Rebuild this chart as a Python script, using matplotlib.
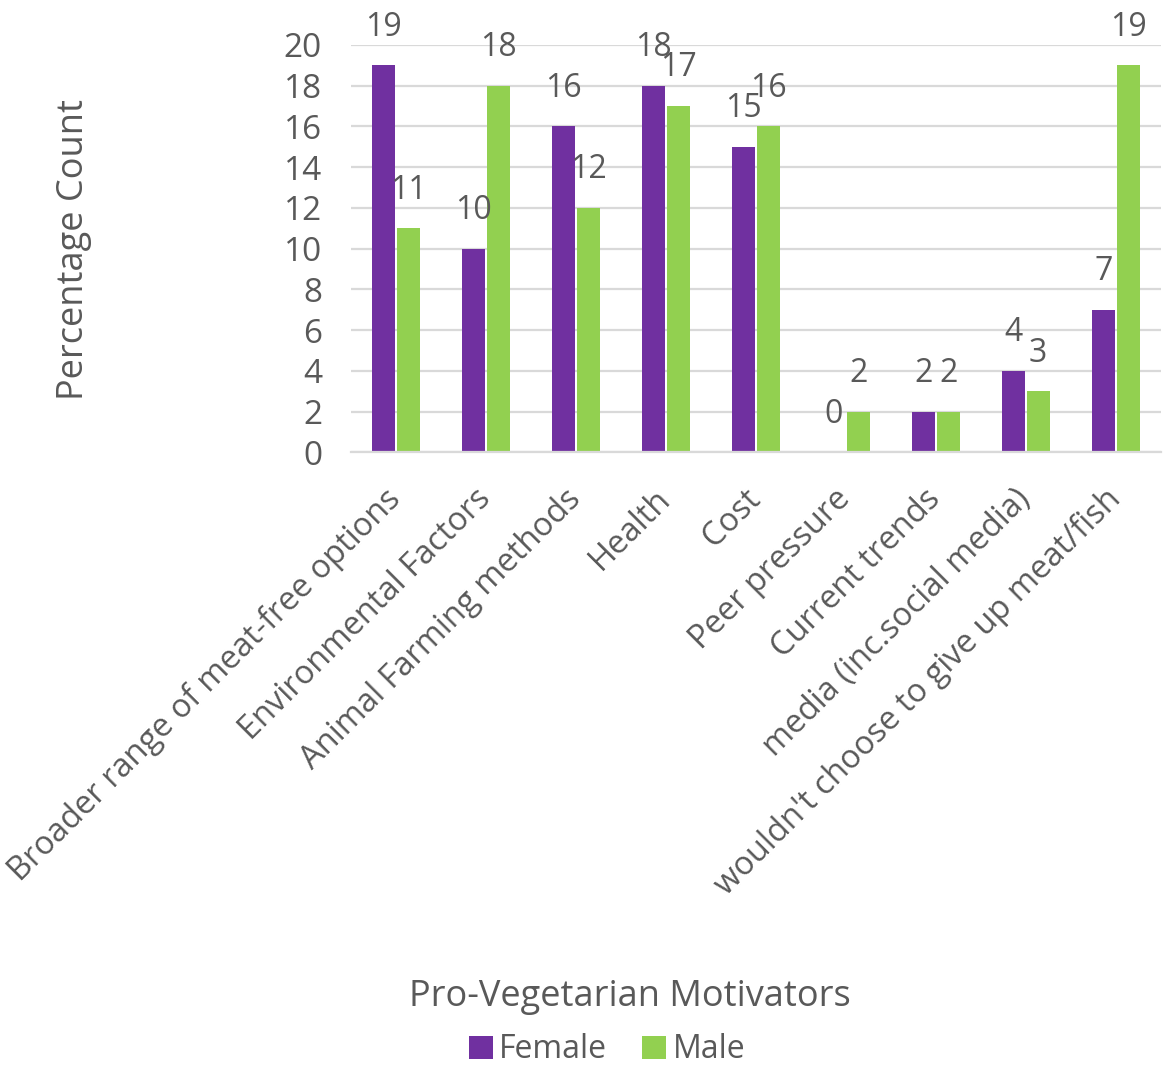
import matplotlib
matplotlib.use("Agg")
import matplotlib.pyplot as plt
import numpy as np

plt.rcParams['font.family'] = ['Open Sans', 'DejaVu Sans']

categories = ["Broader range of meat-free options", "Environmental Factors",
              "Animal Farming methods", "Health", "Cost", "Peer pressure",
              "Current trends", "media (inc.social media)",
              "wouldn't choose to give up meat/fish"]
female = [19, 10, 16, 18, 15, 0, 2, 4, 7]
male = [11, 18, 12, 17, 16, 2, 2, 3, 19]
yticks = list(range(0, 21, 2))

purple = "#7030A0"
green = "#92D050"
grey = "#595959"

fig = plt.figure(figsize=(11.63, 10.67), dpi=100)
ax = fig.add_axes([0.302, 0.576, 0.696, 0.382])

x = np.arange(len(categories))
w = 0.255
b1 = ax.bar(x - w / 2 - 0.01, female, w, color=purple, label="Female")
b2 = ax.bar(x + w / 2 + 0.01, male, w, color=green, label="Male")

# data labels sit a bit above each bar
for bars in (b1, b2):
    for r in bars:
        ax.annotate(str(int(r.get_height())),
                    (r.get_x() + r.get_width() / 2, r.get_height()),
                    xytext=(0, 38), textcoords="offset pixels",
                    ha="center", va="center", fontsize=23, color=grey)

ax.set_xlim(-0.5, len(categories) - 0.5)
ax.set_ylim(0, 20)
ax.set_yticks(yticks)
ax.yaxis.grid(True, color="#D9D9D9", linewidth=1.6)
ax.set_axisbelow(True)
for s in ["top", "right", "left"]:
    ax.spines[s].set_visible(False)
ax.spines["bottom"].set_color("#D9D9D9")
ax.spines["bottom"].set_linewidth(1.6)
ax.tick_params(length=0, labelsize=24, labelcolor=grey, pad=21)
ax.set_xticks(x)
ax.set_xticklabels(categories, rotation=45, ha="right", va="center",
                   rotation_mode="anchor", fontsize=23.5)
ax.tick_params(axis="x", pad=30)

fig.text(0.064, 0.766, "Percentage Count", rotation=90, ha="center",
         va="center", fontsize=26, color=grey)
fig.text(0.542, 0.066, "Pro-Vegetarian Motivators", ha="center",
         va="center", fontsize=26, color=grey)

fig.legend(handles=[b1, b2], loc="center", bbox_to_anchor=(0.522, 0.016),
           ncol=2, frameon=False, fontsize=23, labelcolor=grey,
           handlelength=0.75, handleheight=0.75, handletextpad=0.2,
           columnspacing=1.1)

fig.savefig("out.png", dpi=100)
